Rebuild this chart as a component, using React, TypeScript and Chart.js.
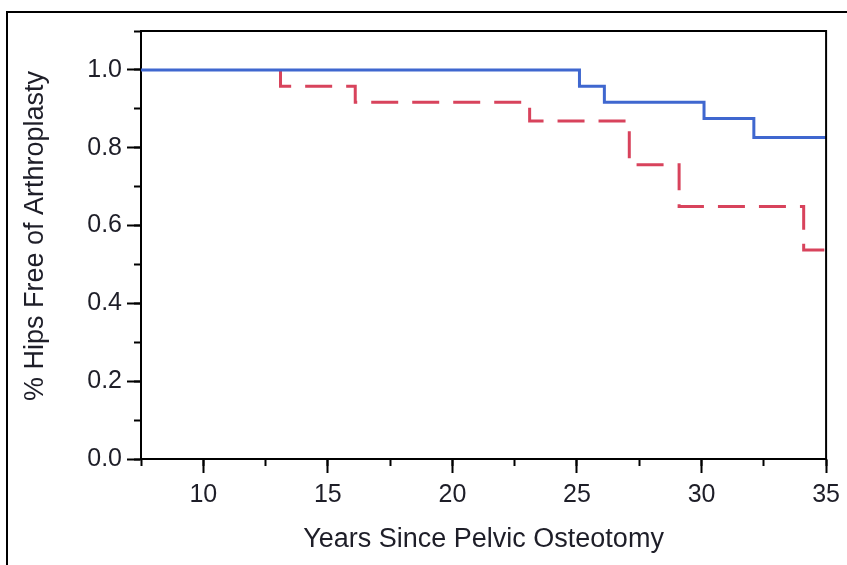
import React, { useEffect, useRef } from 'react';
import { Chart, registerables } from 'chart.js';

Chart.register(...registerables);

// Kaplan-Meier step data (event year, survival after event)
const groupAYears = [7.5, 25.1, 26.1, 30.1, 32.1, 35];
const groupASurvival = [1.0, 0.958, 0.917, 0.875, 0.826, 0.826];
// group B is at 1.0 (hidden under group A) until its first event
const groupBYears = [13.1, 13.1, 16.1, 23.1, 27.1, 29.1, 34.1, 35];
const groupBSurvival = [1.0, 0.958, 0.917, 0.869, 0.756, 0.649, 0.537, 0.537];

const xMin = 7.5;
const xMax = 35;
const xMajorStep = 5;
const xMinorStep = 2.5;
const yMin = 0;
const yMax = 1.1;
const yMajorStep = 0.2;
const yMinorStep = 0.1;

const xTitle = 'Years Since Pelvic Osteotomy';
const yTitle = '% Hips Free of Arthroplasty';

const FONT = "'Liberation Sans', Arial, sans-serif";
const TEXT = '#1e1e28';

const framePlugin = {
  id: 'framePlugin',
  afterDraw(chart: any) {
    const { ctx, chartArea } = chart;
    ctx.save();
    ctx.strokeStyle = '#000';
    ctx.lineWidth = 2;
    // outer frame (top and left)
    ctx.beginPath();
    ctx.moveTo(7, 565);
    ctx.lineTo(7, 12);
    ctx.lineTo(847, 12);
    ctx.stroke();
    // plot frame top and right
    ctx.beginPath();
    ctx.moveTo(chartArea.left, chartArea.top);
    ctx.lineTo(chartArea.right, chartArea.top);
    ctx.lineTo(chartArea.right, chartArea.bottom);
    ctx.stroke();
    // y title
    ctx.translate(36, 236);
    ctx.rotate(-Math.PI / 2);
    ctx.font = `27px ${FONT}`;
    ctx.fillStyle = TEXT;
    ctx.textAlign = 'center';
    ctx.textBaseline = 'middle';
    ctx.fillText(yTitle, 0, 0);
    ctx.restore();
  },
};

export default function App() {
  const ref = useRef<HTMLCanvasElement | null>(null);

  useEffect(() => {
    if (!ref.current) return;
    const toPts = (xs: number[], ys: number[]) => xs.map((x, i) => ({ x, y: ys[i] }));
    const chart = new Chart(ref.current, {
      type: 'line',
      data: {
        datasets: [
          {
            label: 'B',
            data: toPts(groupBYears, groupBSurvival),
            borderColor: '#d8435c',
            borderWidth: 3,
            borderDash: [27, 14],
            pointRadius: 0,
            stepped: true,
            fill: false,
            order: 2,
            xAxisID: 'x',
            yAxisID: 'y',
          },
          {
            label: 'A',
            data: toPts(groupAYears, groupASurvival),
            borderColor: '#3f67cf',
            borderWidth: 3,
            pointRadius: 0,
            stepped: true,
            fill: false,
            order: 1,
            xAxisID: 'x',
            yAxisID: 'y',
          },
        ],
      },
      options: {
        responsive: false,
        animation: false,
        devicePixelRatio: 1,
        layout: { padding: { left: 0, top: 31, right: 20, bottom: 0 } },
        plugins: { legend: { display: false }, tooltip: { enabled: false } },
        scales: {
          x: {
            type: 'linear',
            position: 'bottom',
            weight: 1,
            min: xMin,
            max: xMax,
            ticks: {
              stepSize: xMajorStep,
              includeBounds: false,
              autoSkip: false,
              maxRotation: 0,
              font: { size: 25, family: FONT },
              color: TEXT,
              padding: 7,
            },
            grid: { drawOnChartArea: false, tickLength: 14, tickWidth: 2, color: '#000' },
            border: { display: true, color: '#000', width: 2 },
            title: {
              display: true,
              text: xTitle,
              font: { size: 27, family: FONT },
              color: TEXT,
              padding: { top: 0, bottom: 9 },
            },
            afterFit: (s: any) => {
              s.height = 106;
            },
          },
          xMinor: {
            type: 'linear',
            position: 'bottom',
            weight: 0,
            min: xMin,
            max: xMax,
            ticks: { stepSize: xMinorStep, display: false, autoSkip: false },
            grid: { drawOnChartArea: false, tickLength: 7, tickWidth: 2, color: '#000' },
            border: { display: false },
            afterFit: (s: any) => {
              s.height = 0;
            },
          },
          y: {
            type: 'linear',
            position: 'left',
            weight: 1,
            min: yMin,
            max: yMax,
            ticks: {
              stepSize: yMajorStep,
              includeBounds: false,
              autoSkip: false,
              font: { size: 25, family: FONT },
              color: TEXT,
              padding: 5,
              callback: (v: any) => Number(v).toFixed(1),
            },
            grid: { drawOnChartArea: false, tickLength: 14, tickWidth: 2, color: '#000' },
            border: { display: true, color: '#000', width: 2 },
            afterFit: (s: any) => {
              s.width = 141;
            },
          },
          yMinor: {
            type: 'linear',
            position: 'left',
            weight: 0,
            min: yMin,
            max: yMax,
            ticks: { stepSize: yMinorStep, display: false, autoSkip: false },
            grid: { drawOnChartArea: false, tickLength: 7, tickWidth: 2, color: '#000' },
            border: { display: false },
            afterFit: (s: any) => {
              s.width = 0;
            },
          },
        },
      },
      plugins: [framePlugin],
    } as any);
    return () => chart.destroy();
  }, []);

  return (
    <div style={{ position: 'fixed', left: 0, top: 0, width: 847, height: 565, background: '#fff' }}>
      <canvas ref={ref} width={847} height={565} style={{ display: 'block' }} />
    </div>
  );
}
